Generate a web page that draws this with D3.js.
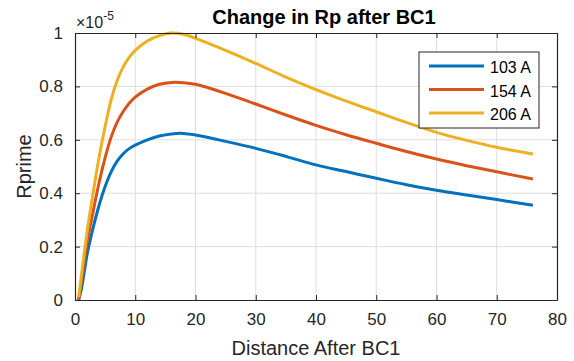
<!DOCTYPE html>
<html>
<head>
<meta charset="utf-8">
<script src="https://cdn.jsdelivr.net/npm/d3@7"></script>
<style>
  body { margin: 0; background: #fff; }
  svg { font-family: "Liberation Sans", Arial, Helvetica, sans-serif; }
  .axis text { fill: #262626; font-size: 17px; }
  .axis line, .axis path { stroke: #262626; }
</style>
</head>
<body>
<svg id="chart"></svg>
<script>
// distance after BC1
const distance = [0.6, 1, 1.5, 2, 3, 4, 5, 6, 7, 8, 9, 10, 12, 14, 16, 18, 20, 25, 30, 35, 40, 45, 50, 55, 60, 65, 70, 76];

// Rprime values, in units of 1e-5
const rp103 = [0, 0.035, 0.10, 0.17, 0.27, 0.355, 0.425, 0.48, 0.52, 0.548, 0.567, 0.58, 0.600, 0.614, 0.622, 0.624, 0.618, 0.594, 0.568, 0.538, 0.506, 0.481, 0.456, 0.432, 0.411, 0.393, 0.376, 0.355];
const rp154 = [0, 0.06, 0.14, 0.215, 0.33, 0.44, 0.533, 0.61, 0.666, 0.706, 0.737, 0.76, 0.79, 0.808, 0.815, 0.814, 0.808, 0.774, 0.734, 0.693, 0.654, 0.619, 0.587, 0.556, 0.528, 0.503, 0.480, 0.453];
const rp206 = [0.01, 0.08, 0.17, 0.255, 0.40, 0.535, 0.65, 0.75, 0.822, 0.873, 0.909, 0.935, 0.97, 0.99, 1.0, 0.995, 0.98, 0.935, 0.886, 0.835, 0.788, 0.745, 0.705, 0.665, 0.628, 0.598, 0.572, 0.547];

const seriesNames = ['103 A', '154 A', '206 A'];
const seriesColors = ['#0072BD', '#D95319', '#EDB120'];
const xTicks = [0, 10, 20, 30, 40, 50, 60, 70, 80];
const yTicks = [0, 0.2, 0.4, 0.6, 0.8, 1];

const series = [rp103, rp154, rp206].map((vals, i) => ({
  name: seriesNames[i],
  color: seriesColors[i],
  points: vals.map((v, j) => ({ x: distance[j], y: v }))
}));

const width = 574, height = 361;
const margin = { top: 33, right: 17, bottom: 61, left: 75 };
const innerW = width - margin.left - margin.right;
const innerH = height - margin.top - margin.bottom;

const svg = d3.select('#chart')
  .attr('width', width)
  .attr('height', height);

const chart = svg.append('g')
  .attr('transform', `translate(${margin.left},${margin.top})`);

const xScale = d3.scaleLinear().domain([0, 80]).range([0, innerW]);
const yScale = d3.scaleLinear().domain([0, 1]).range([innerH, 0]);

// gridlines
chart.append('g')
  .selectAll('line')
  .data(xTicks.slice(1, -1))
  .join('line')
  .attr('x1', d => xScale(d)).attr('x2', d => xScale(d))
  .attr('y1', 0).attr('y2', innerH)
  .attr('stroke', '#dedede').attr('stroke-width', 1);

chart.append('g')
  .selectAll('line')
  .data(yTicks.slice(1, -1))
  .join('line')
  .attr('y1', d => yScale(d)).attr('y2', d => yScale(d))
  .attr('x1', 0).attr('x2', innerW)
  .attr('stroke', '#dedede').attr('stroke-width', 1);

// curves
const line = d3.line()
  .x(d => xScale(d.x))
  .y(d => yScale(d.y))
  .curve(d3.curveCatmullRom.alpha(0.5));

chart.selectAll('.curve')
  .data(series)
  .join('path')
  .attr('class', 'curve')
  .attr('fill', 'none')
  .attr('stroke', d => d.color)
  .attr('stroke-width', 3)
  .attr('d', d => line(d.points));

// axes, ticks pointing inward
const xAxis = d3.axisBottom(xScale).tickValues(xTicks).tickSizeInner(-5).tickSizeOuter(0).tickPadding(13);
const yAxis = d3.axisLeft(yScale).tickValues(yTicks).tickSizeInner(-5).tickSizeOuter(0).tickPadding(12)
  .tickFormat(d => d3.format('')(d));

chart.append('g')
  .attr('class', 'axis')
  .attr('transform', `translate(0,${innerH})`)
  .call(xAxis);

chart.append('g')
  .attr('class', 'axis')
  .call(yAxis);

// top and right box ticks
chart.append('g')
  .attr('class', 'axis')
  .call(d3.axisTop(xScale).tickValues(xTicks).tickSizeInner(-5).tickSizeOuter(0).tickFormat(''));

chart.append('g')
  .attr('class', 'axis')
  .attr('transform', `translate(${innerW},0)`)
  .call(d3.axisRight(yScale).tickValues(yTicks).tickSizeInner(-5).tickSizeOuter(0).tickFormat(''));

chart.selectAll('.axis .domain').attr('stroke-width', 1.2);

// exponent label
const expo = svg.append('text')
  .attr('x', 76).attr('y', 28)
  .attr('fill', '#262626')
  .style('font-size', '16px');
expo.append('tspan').text('\u00d710');
expo.append('tspan').attr('dy', -8).style('font-size', '12px').text('-5');

// axis titles
svg.append('text')
  .attr('x', margin.left + innerW / 2)
  .attr('y', 355)
  .attr('text-anchor', 'middle')
  .attr('fill', '#262626')
  .style('font-size', '20px')
  .text('Distance After BC1');

svg.append('text')
  .attr('transform', `translate(31,${margin.top + innerH / 2}) rotate(-90)`)
  .attr('text-anchor', 'middle')
  .attr('fill', '#262626')
  .style('font-size', '20px')
  .text('Rprime');

svg.append('text')
  .attr('x', 324)
  .attr('y', 24)
  .attr('text-anchor', 'middle')
  .attr('fill', '#000')
  .style('font-size', '20px')
  .style('font-weight', 'bold')
  .text('Change in Rp after BC1');

// legend
const legend = svg.append('g').attr('transform', 'translate(419,52)');
legend.append('rect')
  .attr('width', 120).attr('height', 76)
  .attr('fill', '#fff').attr('stroke', '#262626').attr('stroke-width', 1);

const items = legend.selectAll('.item')
  .data(series)
  .join('g')
  .attr('class', 'item')
  .attr('transform', (d, i) => `translate(0,${14 + i * 23.5})`);

items.append('line')
  .attr('x1', 10).attr('x2', 65)
  .attr('stroke', d => d.color).attr('stroke-width', 3);

items.append('text')
  .attr('x', 71).attr('y', 7)
  .attr('fill', '#000')
  .style('font-size', '16px')
  .text(d => d.name);
</script>
</body>
</html>
